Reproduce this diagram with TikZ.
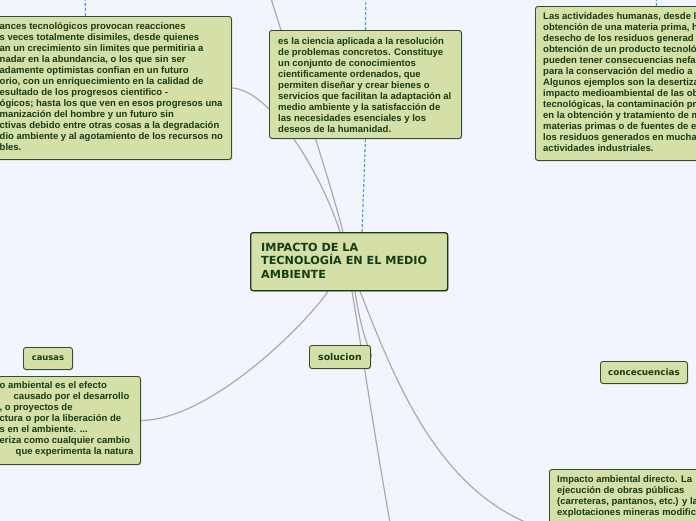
\documentclass[tikz,border=0pt]{standalone}
\usepackage{fontspec}
\newfontfamily\detfont{Liberation Sans}
\newfontfamily\titfont{DejaVu Sans}
\usetikzlibrary{shadows,backgrounds,calc}
\definecolor{bgc}{HTML}{F2F5FD}
\definecolor{nodefill}{HTML}{D5DFA8}
\definecolor{nodeborder}{HTML}{2E502E}
\definecolor{txtc}{HTML}{163C16}
\definecolor{linec}{HTML}{ABABAB}
\definecolor{relc}{HTML}{4D94EB}
\tikzset{
  box/.style={draw=nodeborder, fill=nodefill, rounded corners=2.5pt, line width=0.9pt, inner sep=0pt,
    anchor=north west, drop shadow={shadow xshift=0.8pt, shadow yshift=-0.9pt, opacity=0.35, fill=black!60}},
  dtxt/.style={inner sep=0pt, anchor=north west, align=left, text=txtc,
    font=\detfont\bfseries\fontsize{9.5}{11}\selectfont},
  ttxt/.style={inner sep=0pt, anchor=north west, align=left, text=txtc,
    font=\titfont\bfseries\fontsize{11.2}{13.8}\selectfont},
  ltxt/.style={inner sep=0pt, text=txtc, font=\titfont\bfseries\fontsize{#1}{#1}\selectfont},
  conn/.style={draw=linec, line width=1.2pt},
  rel/.style={draw=relc, line width=1.1pt, dash pattern=on 3pt off 2pt},
}
\begin{document}
\begin{tikzpicture}[x=1pt,y=-1pt]
\useasboundingbox (0,0) rectangle (696,520);
\clip (0,0) rectangle (696,520);

% boxes
\node[box, minimum width=292pt, minimum height=143pt] (lt) at (-61,16) {};
\node[box, minimum width=192pt, minimum height=108pt] (es) at (269,30) {};
\node[box, minimum width=242pt, minimum height=154pt] (rt) at (535,6) {};
\node[box, minimum width=197pt, minimum height=58pt, line width=1.3pt, draw=txtc] (cn) at (250,232) {};
\node[box, minimum width=200pt, minimum height=88pt] (ct) at (-60,376) {};
\node[box, minimum width=49pt, minimum height=22pt] (cau) at (23,347) {};
\node[box, minimum width=61pt, minimum height=23pt] (sol) at (309,345) {};
\node[box, minimum width=87pt, minimum height=22pt] (con) at (600,361) {};
\node[box, minimum width=250pt, minimum height=122pt] (bi) at (549,469) {};

% texts
\node[dtxt] (ltT) at (-0.5,22.5) {ances tecnológicos provocan reacciones\\
s veces totalmente disimiles, desde quienes\\
an un crecimiento sin limites que permitiria a\\
nadar en la abundancia, o los que sin ser\\
adamente optimistas confian en un futuro\\
orio, con un enriquecimiento en la calidad de\\
esultado de los progresos cientifico -\\
ógicos; hasta los que ven en esos progresos una\\
manización del hombre y un futuro sin\\
ctivas debido entre otras cosas a la degradación\\
dio ambiente y al agotamiento de los recursos no\\
bles.};

\node[dtxt] (esT) at (278,37) {es la ciencia aplicada a la resolución\\
de problemas concretos. Constituye\\
un conjunto de conocimientos\\
cientificamente ordenados, que\\
permiten diseñar y crear bienes o\\
servicios que facilitan la adaptación al\\
medio ambiente y la satisfacción de\\
las necesidades esenciales y los\\
deseos de la humanidad.};

\node[dtxt] (rtT) at (543,12.5) {Las actividades humanas, desde l\\
obtención de una materia prima, h\\
desecho de los residuos generad\\
obtención de un producto tecnoló\\
pueden tener consecuencias nefa\\
para la conservación del medio a\\
Algunos ejemplos son la desertiza\\
impacto medioambiental de las ob\\
tecnológicas, la contaminación pr\\
en la obtención y tratamiento de m\\
materias primas o de fuentes de e\\
los residuos generados en mucha\\
actividades industriales.};

\node[ttxt] (cnT) at (261,242.5) {IMPACTO DE LA\\ TECNOLOGÍA EN EL MEDIO\\ AMBIENTE};

\node[dtxt] (ctT) at (-0.5,381.5) {o ambiental es el efecto\\
\hspace*{14pt}causado por el desarrollo\\
, o proyectos de\\
ctura o por la liberación de\\
s en el ambiente. ...\\
eriza como cualquier cambio\\
\hspace*{16pt}que experimenta la natura};

\node[dtxt] (biT) at (557,475.5) {Impacto ambiental directo. La\\
ejecución de obras públicas\\
(carreteras, pantanos, etc.) y la\\
explotaciones mineras modific};

\node[ltxt=8.4] (cauT) at (cau.center) {causas};
\node[ltxt=9.3] (solT) at (sol.center) {solucion};
\node[ltxt=8.8] (conT) at (con.center) {concecuencias};

\coordinate (up1) at (262,-30);
\coordinate (up2) at (366,-10);
\coordinate (up3) at (85,-10);
\coordinate (up4) at (656,-10);
\coordinate (down1) at (394,545);

\begin{pgfonlayer}{background}
\clip (0,0) rectangle (696,520);
\fill[bgc] (-10,-10) rectangle (710,530);
\draw[conn] (lt.east) .. controls (270,90) and (320,170) .. ($(cn.north west)+(90,0)$);
\draw[conn] ($(cn.north west)+(93,0)$) .. controls (330,180) and (290,60) .. (up1);
\draw[rel] ($(cn.north west)+(112,0)$) -- (es.south);
\draw[rel] (es.north) -- (up2);
\draw[rel] (lt.north) -- (up3);
\draw[rel] (rt.north) -- (up4);
\draw[conn] ($(cn.south west)+(78,0)$) .. controls (305,325) and (210,420) .. (ct.east);
\draw[conn] ($(cn.south west)+(102,0)$) .. controls (362,350) and (375,440) .. (down1);
\draw[conn] ($(cn.south west)+(105,0)$) .. controls (363,345) and (374,356) .. (sol.east);
\draw[conn] ($(cn.south west)+(110,0)$) .. controls (395,380) and (440,500) .. (bi.west);
\end{pgfonlayer}
\end{tikzpicture}
\end{document}
